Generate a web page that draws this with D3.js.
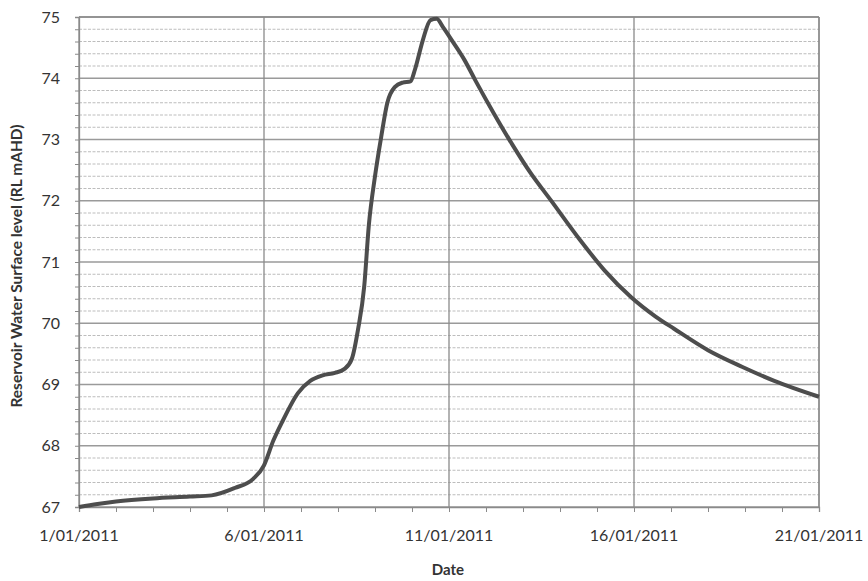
<!DOCTYPE html>
<html>
<head>
<meta charset="utf-8">
<script src="https://cdn.jsdelivr.net/npm/d3@7"></script>
<style>
  body { margin: 0; background: #fff; }
  svg { font-family: Lato, "Open Sans", sans-serif; }
  .tick-label { fill: #333; font-size: 16px; }
  .axis-title { fill: #333; font-weight: bold; }
</style>
</head>
<body>
<div id="chart"></div>
<script>
// reservoir level
const times = [
  "2011-01-01T00:00", "2011-01-01T12:00", "2011-01-02T00:00", "2011-01-03T00:00",
  "2011-01-04T00:00", "2011-01-04T14:00", "2011-01-05T05:00", "2011-01-05T17:00",
  "2011-01-06T00:00", "2011-01-06T06:00", "2011-01-06T12:00", "2011-01-06T22:00",
  "2011-01-07T06:00", "2011-01-07T14:00", "2011-01-07T22:00", "2011-01-08T04:00",
  "2011-01-08T09:00", "2011-01-08T13:00", "2011-01-08T17:00", "2011-01-08T20:00",
  "2011-01-09T00:00", "2011-01-09T04:00", "2011-01-09T08:00", "2011-01-09T13:00",
  "2011-01-09T18:00", "2011-01-09T23:00", "2011-01-10T02:00", "2011-01-10T07:00",
  "2011-01-10T12:00", "2011-01-10T16:00", "2011-01-10T20:00", "2011-01-11T01:00",
  "2011-01-11T10:00", "2011-01-11T17:00", "2011-01-12T05:00", "2011-01-12T17:00",
  "2011-01-13T05:00", "2011-01-13T18:00", "2011-01-14T13:00", "2011-01-15T05:00",
  "2011-01-15T22:00", "2011-01-16T14:00", "2011-01-17T02:00", "2011-01-18T00:00",
  "2011-01-18T22:00", "2011-01-19T19:00", "2011-01-21T00:00"
];
const levels = [
  67.00, 67.05, 67.09, 67.14,
  67.17, 67.19, 67.31, 67.46,
  67.68, 68.08, 68.40, 68.86,
  69.06, 69.15, 69.19, 69.25,
  69.42, 69.90, 70.60, 71.60,
  72.40, 73.04, 73.60, 73.86,
  73.93, 73.95, 74.15, 74.62,
  74.95, 74.97, 74.84, 74.65,
  74.30, 73.97, 73.43, 72.92,
  72.45, 72.01, 71.36, 70.86,
  70.43, 70.11, 69.91, 69.56,
  69.29, 69.06, 68.80
];
const xLabels = ["1/01/2011", "6/01/2011", "11/01/2011", "16/01/2011", "21/01/2011"];
const yTicks = [67, 68, 69, 70, 71, 72, 73, 74, 75];

const W = 868, H = 581;
const margin = { top: 17, right: 49, bottom: 74, left: 79 };
const width = W - margin.left - margin.right,
      height = H - margin.top - margin.bottom;

const parse = d3.timeParse("%Y-%m-%dT%H:%M");
const data = times.map((t, i) => ({ date: parse(t), level: levels[i] }));

const svg = d3.select("#chart").append("svg")
    .attr("width", W)
    .attr("height", H);

const g = svg.append("g")
    .attr("transform", "translate(" + margin.left + "," + margin.top + ")");

const x = d3.scaleTime()
    .domain([new Date(2011, 0, 1), new Date(2011, 0, 21)])
    .range([0, width]);
const y = d3.scaleLinear()
    .domain([67, 75])
    .range([height, 0]);

const majorDays = xLabels.map(s => d3.timeParse("%d/%m/%Y")(s));
const minorLevels = d3.range(67, 75.001, 0.2).map(v => +v.toFixed(1));

// minor horizontal grid
g.append("g").selectAll("line")
    .data(minorLevels.filter(v => !Number.isInteger(v)))
    .enter().append("line")
    .attr("x1", 0).attr("x2", width)
    .attr("y1", d => y(d)).attr("y2", d => y(d))
    .style("stroke", "#bdbdbd")
    .style("stroke-width", 1)
    .style("stroke-dasharray", "3,1.5");

// major horizontal grid
g.append("g").selectAll("line")
    .data(yTicks)
    .enter().append("line")
    .attr("x1", 0).attr("x2", width)
    .attr("y1", d => y(d)).attr("y2", d => y(d))
    .style("stroke", "#9a9a9a")
    .style("stroke-width", 1.3);

// vertical grid every 5 days
g.append("g").selectAll("line")
    .data(majorDays)
    .enter().append("line")
    .attr("x1", d => x(d)).attr("x2", d => x(d))
    .attr("y1", 0).attr("y2", height)
    .style("stroke", "#8a8a8a")
    .style("stroke-width", 1.3);

// x axis: ticks every day, labels every 5 days
g.append("g")
    .attr("transform", "translate(0," + height + ")")
    .call(d3.axisBottom(x)
        .ticks(d3.timeDay.every(1))
        .tickSize(5)
        .tickFormat(""))
    .call(a => a.select(".domain").style("stroke", "#8a8a8a").style("stroke-width", 1.3))
    .call(a => a.selectAll(".tick line").style("stroke", "#8a8a8a"));

g.append("g").selectAll("text")
    .data(majorDays)
    .enter().append("text")
    .attr("class", "tick-label")
    .attr("x", d => x(d))
    .attr("y", height + 34)
    .attr("text-anchor", "middle")
    .text((d, i) => xLabels[i]);

// y axis with minor ticks
g.append("g")
    .call(d3.axisLeft(y)
        .tickValues(minorLevels)
        .tickSize(4)
        .tickFormat(""))
    .call(a => a.select(".domain").style("stroke", "#8a8a8a").style("stroke-width", 1.3))
    .call(a => a.selectAll(".tick line").style("stroke", "#8a8a8a"));

g.append("g").selectAll("text")
    .data(yTicks)
    .enter().append("text")
    .attr("class", "tick-label")
    .attr("x", -19)
    .attr("y", d => y(d))
    .attr("dy", "0.35em")
    .attr("text-anchor", "end")
    .text(d => d);

// top and right border
g.append("line")
    .attr("x1", 0).attr("x2", width).attr("y1", 0).attr("y2", 0)
    .style("stroke", "#8a8a8a").style("stroke-width", 1.3);
g.append("line")
    .attr("x1", width).attr("x2", width).attr("y1", 0).attr("y2", height)
    .style("stroke", "#8a8a8a").style("stroke-width", 1.3);

// level line
const line = d3.line()
    .curve(d3.curveMonotoneX)
    .x(d => x(d.date))
    .y(d => y(d.level));

g.append("path")
    .datum(data)
    .attr("d", line)
    .style("fill", "none")
    .style("stroke", "#4d4d4d")
    .style("stroke-width", 4)
    .style("stroke-linejoin", "round");

// axis titles
svg.append("text")
    .attr("class", "axis-title")
    .attr("transform", "translate(22,266) rotate(-90)")
    .attr("text-anchor", "middle")
    .style("font-size", "15.5px")
    .text("Reservoir Water Surface level (RL mAHD)");

svg.append("text")
    .attr("class", "axis-title")
    .attr("x", 448)
    .attr("y", 575)
    .attr("text-anchor", "middle")
    .style("font-size", "15px")
    .text("Date");
</script>
</body>
</html>
